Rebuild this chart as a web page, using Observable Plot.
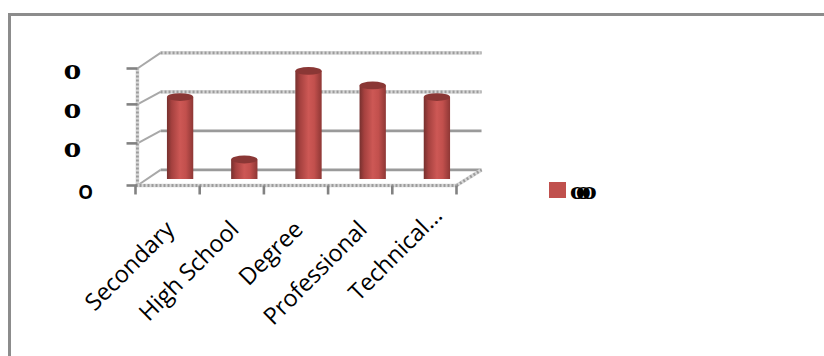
<!DOCTYPE html>
<html>
<head>
<meta charset="utf-8">
<script src="https://cdn.jsdelivr.net/npm/d3@7"></script>
<script src="https://cdn.jsdelivr.net/npm/@observablehq/plot@0.6"></script>
<style>
  html, body { margin: 0; padding: 0; background: #fff; overflow: hidden; }
  #wrap { position: relative; width: 824px; height: 356px; overflow: hidden; }
  #frame { position: absolute; left: 8px; top: 13px; width: 900px; height: 500px;
           border-left: 3px solid #8c8c8c; border-top: 3px solid #8c8c8c; }
  #chart { position: absolute; left: 0; top: 0; }
  #legend { position: absolute; left: 549px; top: 182px; width: 80px; height: 20px; }
  #legend i { position: absolute; left: 0; top: 0; width: 17px; height: 16px; background: #c0504d; }
  #legend span { position: absolute; top: -11px; font: bold 22px/40px "DejaVu Serif", serif; color: #000; }
</style>
</head>
<body>
<div id="wrap">
  <div id="frame"></div>
  <div id="chart"></div>
  <div id="legend"><i></i></div>
</div>
<script>
// Education levels and their bar heights
const categories = ["Secondary", "High School", "Degree", "Professional", "Technical…"];
const values = [2.1, 0.5, 2.77, 2.4, 2.1];

// Value axis: evenly spaced back wall, slightly uneven front tick marks
const wallTicks = [0, 1, 2, 3];
const frontTicks = [0, 1.08, 2.08, 3];
const axisLabels = ["o", "o", "o"];
const seriesMarks = ["o", "o", "o"];

// Extruded floor depth, in scale units
const depthX = 0.39;
const depthY = 0.4;

const rows = categories.map((name, i) => ({name, i, value: values[i]}));
const barHalf = 0.205;
const stippleA = {stroke: "#d8d8d8", strokeWidth: 3.6};
const stippleB = {stroke: "#9c9c9c", strokeWidth: 2.8, strokeDasharray: "2 2"};
const solid = {stroke: "#9a9a9a", strokeWidth: 2.6};

const wallRows = wallTicks.map((v, k) => ({v, k}));
const backStippled = wallRows.filter(d => d.k >= 2);
const backSolid = wallRows.filter(d => d.k < 2);
const connectors = wallTicks.map((v, k) => ({v, f: frontTicks[k]}));
const xEdges = d3.range(categories.length + 1);

// A gridline on the back wall, level with a value tick
const backLine = (data, style) => Plot.link(data, {
  x1: depthX, x2: categories.length + depthX,
  y1: d => d.v + depthY, y2: d => d.v + depthY, ...style
});

// A stippled edge drawn as a pale underlay with a darker dashed line on top
const stippled = (x1, y1, x2, y2) => [
  Plot.link([0], {x1, y1, x2, y2, ...stippleA}),
  Plot.link([0], {x1, y1, x2, y2, ...stippleB})
];

// Shading across each cylinder
const gradient = () => {
  const defs = d3.create("svg:defs");
  const g = defs.append("linearGradient").attr("id", "cyl")
    .attr("x1", 0).attr("x2", 1).attr("y1", 0).attr("y2", 0);
  [[0, "#76302e"], [0.18, "#a5413f"], [0.5, "#cd5855"], [0.72, "#c2504d"], [1, "#8e3735"]]
    .forEach(([o, c]) => g.append("stop").attr("offset", o).attr("stop-color", c));
  return defs.node();
};

const labelStyle = {
  text: "name", rotate: -45, textAnchor: "end",
  fontFamily: "Open Sans", fontSize: 23.5, fill: "#000"
};
const labelX = d => d.i + 0.5;

const plot = Plot.plot({
  width: 824,
  height: 356,
  margin: 0,
  style: {background: "transparent"},
  x: {type: "linear", domain: [0, categories.length], range: [135, 456], axis: null},
  y: {type: "linear", domain: [0, 3], range: [185, 68], axis: null},
  marks: [
    gradient,
    // Back wall gridlines
    backLine(backStippled, stippleA),
    backLine(backStippled, stippleB),
    backLine(backSolid, solid),
    // Connectors from the side wall to the back wall
    Plot.link(connectors, {x1: 0.03, x2: depthX, y1: "f", y2: d => d.v + depthY, stroke: "#a8a8a8", strokeWidth: 2}),
    // Far right floor edge, side wall and front floor edge
    stippled(categories.length, 0, categories.length + depthX, depthY),
    stippled(0.03, 0, 0.03, 3),
    stippled(0, 0, categories.length, 0),
    // Tick marks on both axes
    Plot.link(frontTicks, {x1: -0.14, x2: 0.03, y1: d => d, y2: d => d, stroke: "#828282", strokeWidth: 2.6}),
    Plot.link(xEdges, {x1: d => d, x2: d => d, y1: 0, y2: -0.23, stroke: "#828282", strokeWidth: 2.6}),
    // Cylinders, raised halfway into the floor depth
    Plot.rect(rows, {
      x1: d => d.i + 0.5 - barHalf, x2: d => d.i + 0.5 + barHalf,
      y1: 0, y2: "value", dx: 13, dy: -6, fill: "url(#cyl)"
    }),
    Plot.rect(rows, {
      x1: d => d.i + 0.5 - barHalf, x2: d => d.i + 0.5 + barHalf,
      y1: d => d.value - 0.1, y2: d => d.value + 0.1, dx: 13, dy: -6,
      rx: 13, ry: 4, fill: "#8a3735"
    }),
    // Value axis labels
    Plot.axisY(wallTicks.slice(1), {
      tickSize: 0, anchor: "left", tickFormat: (d, k) => axisLabels[k],
      frameAnchor: "left", textAnchor: "middle", dx: 81, dy: 2,
      fontFamily: "DejaVu Serif", fontWeight: "bold", fontSize: 26, fill: "#000"
    }),
    Plot.axisY([0], {
      tickSize: 0, anchor: "left", tickFormat: () => "o",
      frameAnchor: "left", textAnchor: "middle", dx: 94, dy: 5,
      fontFamily: "Open Sans", fontWeight: 600, fontSize: 25, fill: "#000"
    }),
    // Category labels; the truncated last one sits further out along its tick
    Plot.text(rows.slice(0, 4), {x: labelX, y: 0, dx: 3, dy: 40, ...labelStyle}),
    Plot.text(rows.slice(4), {x: labelX, y: 0, dx: 14, dy: 26, ...labelStyle})
  ]
});
document.getElementById("chart").append(plot);

// Series key: swatch with the overlapping series marks
const legend = document.getElementById("legend");
seriesMarks.forEach((t, k) => {
  const s = document.createElement("span");
  s.textContent = t;
  s.style.left = (21 + k * 6) + "px";
  legend.append(s);
});
</script>
</body>
</html>
